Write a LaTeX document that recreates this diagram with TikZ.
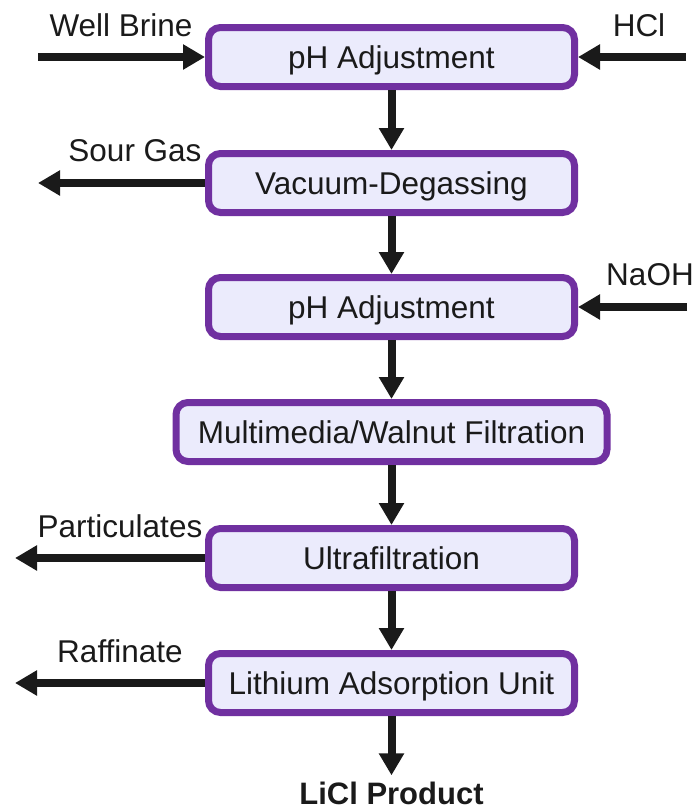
\documentclass[tikz,border=0pt]{standalone}
\usepackage{fontspec}
\setmainfont{Liberation Sans}
\usepackage{xcolor}
\usetikzlibrary{
    arrows.meta,
    positioning,
    calc
}
\definecolor{boxedge}{HTML}{7030A0}
\definecolor{boxfill}{HTML}{EBEBFC}
\definecolor{dark}{HTML}{1A1A1A}
\tikzset{
    % Process unit style
    unit/.style={
        rectangle,
        rounded corners=12pt,
        minimum width=366pt,
        minimum height=59pt,
        inner sep=0pt,
        text height=22.5pt,
        text depth=0pt,
        align=center,
        font=\fontsize{31.5}{36}\selectfont,
        text=dark,
        draw=boxedge,
        fill=boxfill,
        line width=7pt
    },
    % Arrow style
    flow/.style={
        -{Triangle[length=22pt, width=24pt]},
        line width=8pt,
        color=dark
    },
    % Stream label style
    stream/.style={
        font=\fontsize{31.5}{36}\selectfont,
        text=dark,
        inner sep=0pt,
        anchor=base
    }
}
\begin{document}
\begin{tikzpicture}[x=1pt, y=-1pt]
        \useasboundingbox (0,0) rectangle (697,812);

        % Process units
        \node[unit] (phA) at (391.5, 57) {pH Adjustment};
        \node[unit] (degas) at (391.5, 183) {Vacuum-Degassing};
        \node[unit] (phB) at (391.5, 307) {pH Adjustment};
        \node[unit, minimum width=431pt] (filt) at (391.5, 432) {Multimedia/Walnut Filtration};
        \node[unit] (ultra) at (391.5, 558) {Ultrafiltration};
        \node[unit] (lith) at (391.5, 683) {Lithium Adsorption Unit};

        % Product
        \node[stream, font=\fontsize{31}{36}\selectfont\bfseries] (licl) at (391.5, 804) {LiCl Product};

        % Free stream ends
        \coordinate (brine) at (38, 57);
        \coordinate (hcl) at (686, 57);
        \coordinate (sour) at (38, 183);
        \coordinate (naoh) at (687, 307);
        \coordinate (part) at (15, 558);
        \coordinate (raff) at (15, 683);

        % Stream labels
        \node[stream] (brinelbl) at (121, 36) {Well Brine};
        \node[stream] (hcllbl) at (639, 36) {HCl};
        \node[stream] (sourlbl) at (135, 161) {Sour Gas};
        \node[stream] (naohlbl) at (650, 285) {NaOH};
        \node[stream] (partlbl) at (120, 537) {Particulates};
        \node[stream] (rafflbl) at (120, 662) {Raffinate};

        % Main line
        \draw[flow] (phA) -- (degas);
        \draw[flow] (degas) -- (phB);
        \draw[flow] (phB) -- (filt);
        \draw[flow] (filt) -- (ultra);
        \draw[flow] (ultra) -- (lith);
        \draw[flow] (lith.south) -- ($(licl.north)+(0,-6)$);

        % Side streams
        \draw[flow] (brine) -- (phA.west);
        \draw[flow] (hcl) -- (phA.east);
        \draw[flow] (degas.west) -- (sour);
        \draw[flow] (naoh) -- (phB.east);
        \draw[flow] (ultra.west) -- (part);
        \draw[flow] (lith.west) -- (raff);

    \end{tikzpicture}
\end{document}
